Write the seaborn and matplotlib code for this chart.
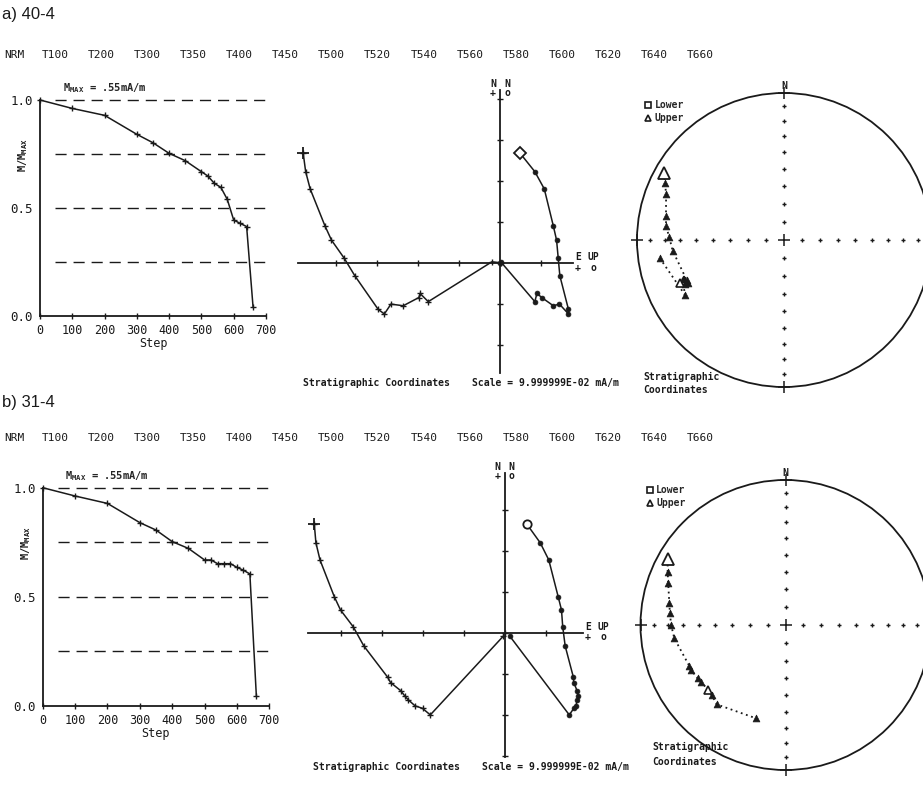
"""
plot.py
Thermal demagnetisation of samples 40-4 and 31-4: decay curve, orthogonal
(Zijderveld) projection and equal-area stereonet for each sample.
"""

import matplotlib.pyplot as plt
import matplotlib.ticker as mtick
import numpy as np
import seaborn as sns
from matplotlib.lines import Line2D
from matplotlib.patches import Circle

sns.set_theme(style="white")
plt.rcParams["font.family"] = ["DejaVu Sans Mono", "DejaVu Sans"]
plt.rcParams["mathtext.fontset"] = "custom"
plt.rcParams["mathtext.rm"] = "DejaVu Sans Mono"
plt.rcParams["mathtext.bf"] = "DejaVu Sans Mono:bold"

W, H = 923, 785
MONO = "DejaVu Sans Mono"

# ---------------------------------------------------------------- data
step_labels = ["NRM", "T100", "T200", "T300", "T350", "T400", "T450", "T500",
               "T520", "T540", "T560", "T580", "T600", "T620", "T640", "T660"]
steps = [0, 100, 200, 300, 350, 400, 450, 500, 520, 540, 560, 580, 600, 620, 640, 660]

# M / Mmax
decay_a = [1.0, 0.961, 0.929, 0.841, 0.802, 0.753, 0.719, 0.668,
           0.648, 0.614, 0.596, 0.540, 0.444, 0.429, 0.414, 0.040]
decay_b = [1.0, 0.962, 0.928, 0.840, 0.806, 0.753, 0.722, 0.669,
           0.669, 0.652, 0.652, 0.652, 0.635, 0.622, 0.605, 0.046]

# orthogonal projection components (mA/m)
east_a = [-0.480, -0.474, -0.463, -0.427, -0.411, -0.380, -0.354, -0.297,
          -0.282, -0.266, -0.236, -0.198, -0.195, -0.175, -0.020, 0.002]
north_a = [0.267, 0.222, 0.180, 0.090, 0.055, 0.011, -0.032, -0.114,
           -0.125, -0.101, -0.105, -0.085, -0.075, -0.095, 0.002, 0.0]
up_a = [0.049, 0.085, 0.108, 0.130, 0.138, 0.142, 0.146, 0.167,
        0.167, 0.145, 0.130, 0.102, 0.090, 0.085, 0.002, 0.0]

east_b = [-0.464, -0.460, -0.450, -0.415, -0.400, -0.369, -0.343, -0.285,
          -0.278, -0.253, -0.243, -0.235, -0.218, -0.200, -0.181, -0.003]
north_b = [0.265, 0.219, 0.177, 0.087, 0.055, 0.014, -0.033, -0.109,
           -0.122, -0.142, -0.155, -0.164, -0.179, -0.185, -0.201, -0.009]
up_b = [0.054, 0.087, 0.108, 0.131, 0.139, 0.142, 0.148, 0.168,
        0.169, 0.177, 0.180, 0.178, 0.174, 0.169, 0.158, 0.013]

# stereonet directions (upper hemisphere)
dec_a = [299.3, 295.5, 291.3, 281.5, 276.8, 271.3, 264.5, 247.6,
         245.7, 248.5, 246.0, 247.4, 249.0, 241.0, 261.6]
inc_a = [-7.1, -11.3, -15.0, -19.2, -20.3, -23.0, -24.9, -29.2,
         -29.3, -28.0, -27.5, -24.4, -27.0, -24.0, -15.8]
dec_b = [299.2, 294.3, 289.8, 280.6, 276.1, 270.0, 263.2, 246.9,
         244.5, 238.7, 236.1, 229.9, 226.5, 220.9, 197.5]
inc_b = [-7.7, -11.8, -15.1, -19.6, -20.9, -22.2, -23.8, -28.7,
         -28.6, -29.9, -30.5, -31.0, -30.5, -28.4, -33.0]
open_a = [0, 11]
open_b = [0, 11]

fig = plt.figure(figsize=(W / 100, H / 100), dpi=100)


def px_axes(left, top, right, bottom):
    return fig.add_axes([left / W, 1 - bottom / H, (right - left) / W, (bottom - top) / H])


def px_text(x, y, s, **kw):
    kw.setdefault("va", "center")
    kw.setdefault("family", MONO)
    kw.setdefault("color", "k")
    fig.text(x / W, 1 - y / H, s, **kw)


# ---------------------------------------------------------------- decay curve
def decay_plot(left, top, right, bottom, decay):
    ax = px_axes(left, top, right, bottom)
    ax.set_facecolor("none")
    sns.lineplot(x=steps, y=decay, sort=False, estimator=None, color="k", lw=1.1,
                 marker="+", markersize=5, markeredgecolor="k", markeredgewidth=1,
                 ax=ax, clip_on=False)
    ax.hlines([0.25, 0.5, 0.75, 1.0], 46, 700, colors="k", lw=1,
              linestyles=[(0, (8, 5))], clip_on=False)
    ax.set_xlim(0, 700)
    ax.set_ylim(0, 1)
    ax.set_xticks(range(0, 701, 100))
    ax.set_yticks([0, 0.5, 1.0])
    ax.yaxis.set_major_formatter(mtick.FormatStrFormatter("%.1f"))
    ax.spines[["top", "right"]].set_visible(False)
    for side in ["left", "bottom"]:
        ax.spines[side].set_color("k")
        ax.spines[side].set_linewidth(1.3)
    ax.tick_params(axis="x", direction="inout", length=5, width=1, colors="k",
                   labelsize=8.5, pad=3, bottom=True)
    ax.tick_params(axis="y", length=0, colors="k", labelsize=9, pad=5, left=True)
    ax.set_xlabel("Step", fontsize=8.5, labelpad=0, color="k")
    ax.set_ylabel(r"$\mathbf{M/M_{MAX}}$", fontsize=7.5, color="k")
    ax.yaxis.set_label_coords(-0.045, 0.745)
    ax.text(0.1, 1.055, r"$\mathbf{M_{MAX}}$ = .55mA/m", transform=ax.transAxes,
            fontsize=7.5, fontweight="bold", va="center", ha="left")


# ---------------------------------------------------------------- orthogonal plot
def zijderveld(left, top, right, bottom, ox, oy, east, north, up, nrm_marker):
    scale = 410.0  # pixels per mA/m
    ax = px_axes(left, top, right, bottom)
    ax.set_facecolor("none")
    ax.set_xlim((left - ox) / scale, (right - ox) / scale)
    ax.set_ylim((oy - bottom) / scale, (oy - top) / scale)
    ax.spines[["top", "right"]].set_visible(False)
    for side in ["left", "bottom"]:
        ax.spines[side].set_position("zero")
        ax.spines[side].set_color("k")
        ax.spines[side].set_linewidth(1.3)
    ax.xaxis.set_major_locator(mtick.MultipleLocator(0.1))
    ax.yaxis.set_major_locator(mtick.MultipleLocator(0.1))
    ax.tick_params(direction="inout", length=4, width=1, colors="k",
                   labelbottom=False, labelleft=False, bottom=True, left=True)

    # horizontal plane (+) and vertical plane (o)
    sns.lineplot(x=east, y=north, sort=False, estimator=None, color="k", lw=1.1,
                 marker="+", markersize=4.5, markeredgecolor="k", markeredgewidth=1,
                 ax=ax, clip_on=False)
    ax.plot(east[:1], north[:1], ls="none", marker="+", ms=8, mew=1.3, color="k",
            clip_on=False)
    sns.lineplot(x=up, y=north, sort=False, estimator=None, color="k", lw=1.1,
                 marker="o", markersize=3.5, markerfacecolor="k", markeredgecolor="k",
                 markeredgewidth=0.5, ax=ax, clip_on=False)
    ax.plot(up[:1], north[:1], ls="none", marker=nrm_marker, ms=6, mew=1.3, mec="k",
            mfc="white", clip_on=False)

    bold = dict(fontsize=7, fontweight="bold")
    px_text(ox - 7, top - 6, "N", ha="center", **bold)
    px_text(ox + 7, top - 6, "N", ha="center", **bold)
    px_text(ox - 7, top + 3, "+", ha="center", **bold)
    px_text(ox + 7, top + 3, "o", ha="center", **bold)
    px_text(right + 5, oy - 6, "E", ha="center", **bold)
    px_text(right + 20, oy - 6, "UP", ha="center", **bold)
    px_text(right + 5, oy + 5, "+", ha="center", **bold)
    px_text(right + 20, oy + 5, "o", ha="center", **bold)
    px_text(left + 5, bottom + 10, "Stratigraphic Coordinates", ha="left", **bold)
    px_text(left + 174, bottom + 10, "Scale = 9.999999E-02 mA/m", ha="left", **bold)


# ---------------------------------------------------------------- equal-area net
def stereonet(cx, cy, R, dec, inc, open_idx):
    ax = px_axes(cx - R, cy - R, cx + R, cy + R)
    ax.set_xlim(-1, 1)
    ax.set_ylim(-1, 1)
    ax.set_aspect("equal")
    ax.axis("off")
    ax.add_patch(Circle((0, 0), 1, fill=False, lw=1.3, ec="k", clip_on=False))

    rr = np.sqrt(2) * np.sin(np.radians(np.arange(10, 90, 10)) / 2)
    zz = np.zeros_like(rr)
    ax.plot(np.concatenate([rr, -rr, zz, zz]), np.concatenate([zz, zz, rr, -rr]),
            ls="none", marker="+", ms=2.5, mew=1, color="k", clip_on=False)
    ax.plot([0, 1, -1, 0, 0], [0, 0, 0, 1, -1], ls="none", marker="+", ms=8,
            mew=1.1, color="k", clip_on=False)

    d = np.radians(dec)
    r = np.sqrt(2) * np.sin(np.radians(90 - np.abs(inc)) / 2)
    x, y = r * np.sin(d), r * np.cos(d)
    sns.lineplot(x=x, y=y, sort=False, estimator=None, color="k", lw=1.3,
                 linestyle=(0, (1, 2)), ax=ax, clip_on=False)
    filled = np.ones(len(x), bool)
    filled[open_idx] = False
    sns.scatterplot(x=x[filled], y=y[filled], marker="^", s=24, color="k",
                    edgecolor="k", linewidth=0.5, ax=ax, clip_on=False)
    big = [open_idx[0]]
    ax.plot(x[big], y[big], ls="none", marker="^", ms=8, mew=1.3, mec="k",
            mfc="white", clip_on=False)
    ax.plot(x[open_idx[1:]], y[open_idx[1:]], ls="none", marker="^", ms=5.5,
            mew=1.2, mec="k", mfc="white", clip_on=False)

    handles = [Line2D([], [], ls="none", marker="s", ms=5, mfc="white", mec="k", mew=1.2),
               Line2D([], [], ls="none", marker="^", ms=5, mfc="white", mec="k", mew=1.2)]
    ax.legend(handles, ["Lower", "Upper"], loc="upper left",
              bbox_to_anchor=((cx - 139) / W, 1 - (cy - 140) / H),
              bbox_transform=fig.transFigure, frameon=False,
              prop={"family": MONO, "weight": "bold", "size": 7},
              handlelength=0.7, handletextpad=0.3, labelspacing=0.35,
              borderpad=0, borderaxespad=0)

    bold = dict(fontsize=7, fontweight="bold")
    px_text(cx, cy - R - 7, "N", ha="center", **bold)


# ---------------------------------------------------------------- panels
def header(y):
    for i, lab in enumerate(step_labels):
        x = 14 if i == 0 else 55 + 46.1 * (i - 1)
        px_text(x, y, lab, ha="center", fontsize=8)


px_text(2, 15, "a) 40-4", ha="left", family="Liberation Sans", fontsize=12)
header(55)
decay_plot(40, 100, 266, 316, decay_a)
zijderveld(298, 90, 573, 373, 500, 262.7, east_a, north_a, up_a, "D")
stereonet(784, 240, 147, dec_a, inc_a, open_a)
px_text(643, 377, "Stratigraphic", ha="left", fontsize=7, fontweight="bold")
px_text(643, 390, "Coordinates", ha="left", fontsize=7, fontweight="bold")

px_text(2, 402, "b) 31-4", ha="left", family="Liberation Sans", fontsize=12)
header(438)
decay_plot(42.7, 487.7, 269.3, 706, decay_b)
zijderveld(308, 473, 583, 757, 504.5, 632.5, east_b, north_b, up_b, "o")
stereonet(785.5, 625, 145, dec_b, inc_b, open_b)
px_text(652, 747, "Stratigraphic", ha="left", fontsize=7, fontweight="bold")
px_text(652, 762, "Coordinates", ha="left", fontsize=7, fontweight="bold")

fig.savefig("out.png", dpi=100, facecolor="white")
